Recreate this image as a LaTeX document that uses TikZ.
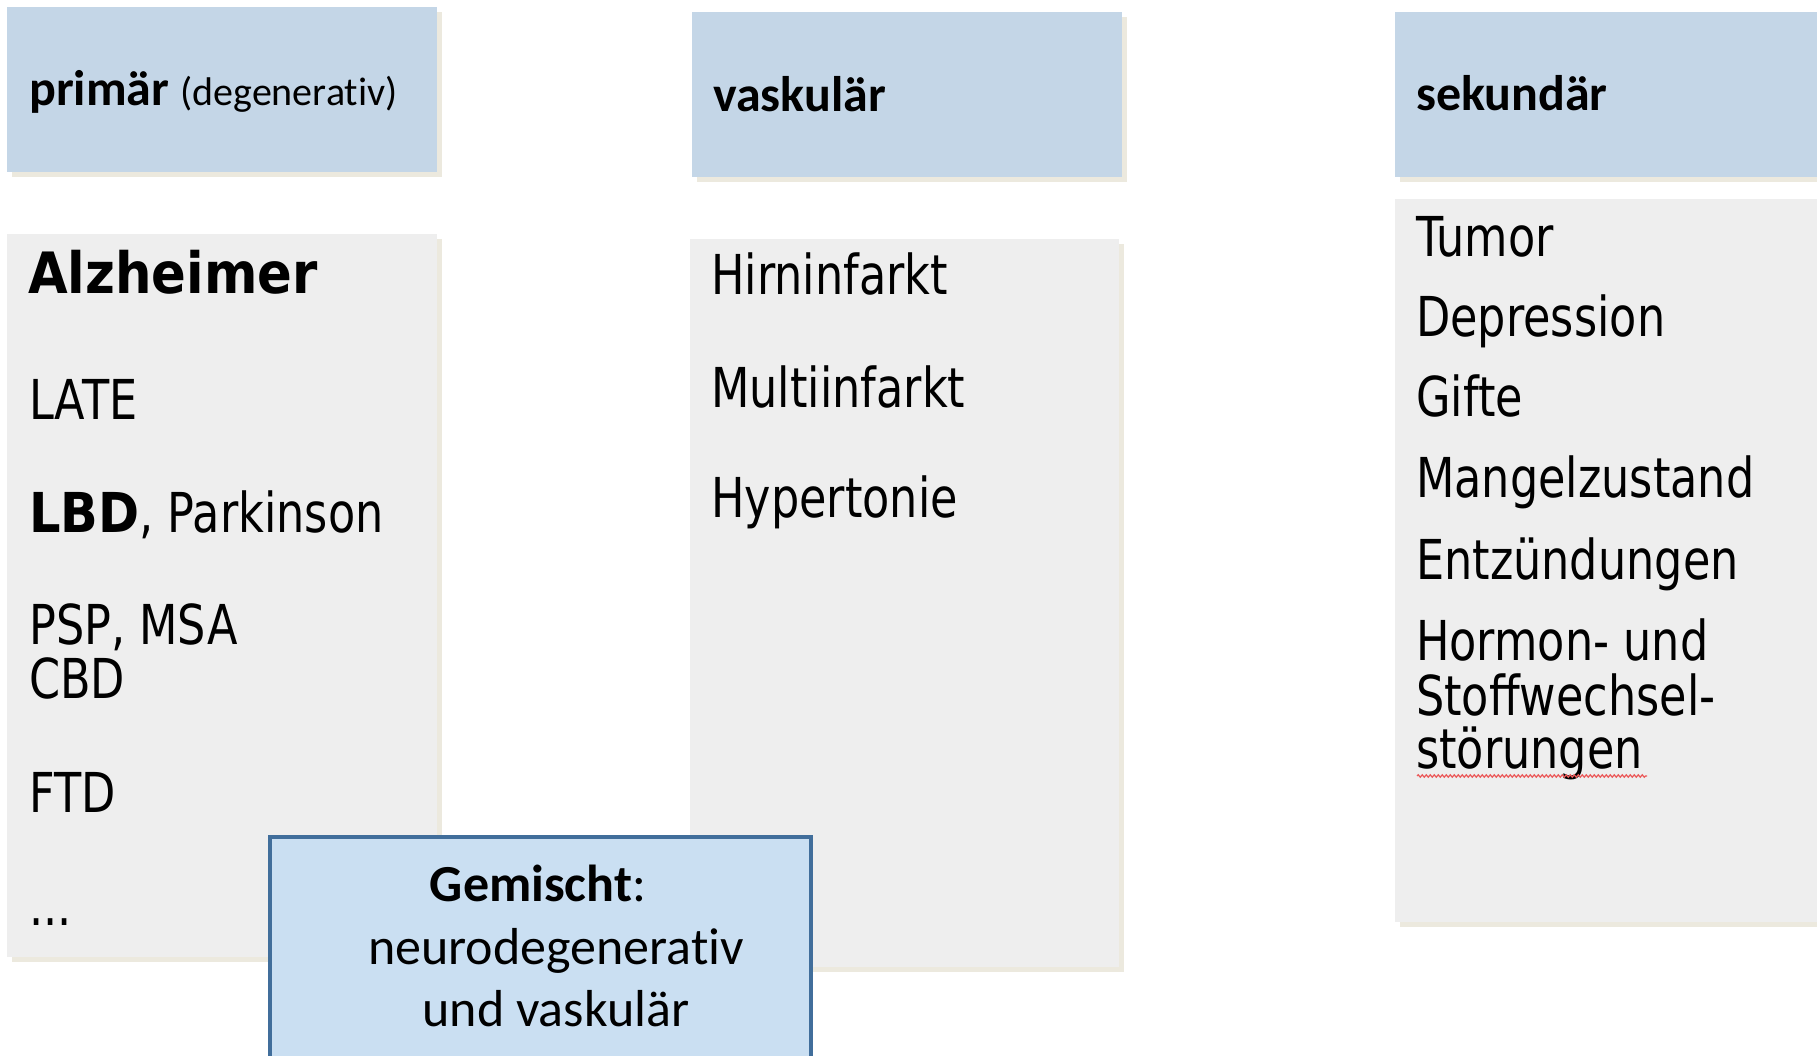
\documentclass[tikz,border=0pt]{standalone}
\usepackage{fontspec}
\setmainfont[Ligatures=NoCommon, RawFeature={-calt;-dlig;-clig}]{Carlito}
\newfontfamily\listfont[FakeStretch=0.81, BoldFeatures={FakeStretch=0.9}]{DejaVu Sans}
\usepackage{tikz}
\usetikzlibrary{shadows, decorations.pathmorphing}
\definecolor{headblue}{RGB}{196,214,231}
\definecolor{listgrey}{RGB}{238,238,238}
\definecolor{shadowbeige}{RGB}{236,233,222}
\definecolor{mixblue}{RGB}{202,223,242}
\definecolor{mixborder}{RGB}{65,110,155}
\definecolor{spellred}{RGB}{235,90,90}

\begin{document}
\begin{tikzpicture}[x=1pt, y=-1pt,
            headbox/.style={fill=headblue, anchor=north west, inner sep=0pt, minimum height=165pt,
                drop shadow={shadow xshift=5pt, shadow yshift=-5pt, fill=shadowbeige, opacity=1}},
            listbox/.style={fill=listgrey, anchor=north west, inner sep=0pt,
                drop shadow={shadow xshift=5pt, shadow yshift=-5pt, fill=shadowbeige, opacity=1}},
            mixbox/.style={fill=mixblue, draw=mixborder, line width=4pt, anchor=north west, inner sep=0pt},
            headtxt/.style={anchor=base west, inner sep=0pt, font=\fontsize{50}{60}\selectfont\bfseries},
            item/.style={anchor=base west, inner sep=0pt, font=\listfont\fontsize{55}{66}\selectfont},
            itembig/.style={anchor=base west, inner sep=0pt, font=\listfont\fontsize{57}{68}\selectfont\bfseries},
            mixtxt/.style={anchor=base, inner sep=0pt, font=\fontsize{52}{62}\selectfont}
        ]
        \useasboundingbox (0,0) rectangle (1817,1056);
        \clip (0,0) rectangle (1817,1056);
        % --- headers ---
        \node[headbox, minimum width=430pt] (headP) at (7,7) {};
        \node[headbox, minimum width=430pt] (headV) at (692,12) {};
        \node[headbox, minimum width=435pt] (headS) at (1395,12) {};
        \node[headtxt] (tP) at (29,106) {primär {\mdseries\fontsize{40}{48}\selectfont (degenerat\kern0pt iv)}};
        \node[headtxt] (tV) at (713,112) {vaskulär};
        \node[headtxt] (tS) at (1416,111) {sekundär};
        % --- lists ---
        \node[listbox, minimum width=430pt, minimum height=723pt] (listP) at (7,234) {};
        \node[listbox, minimum width=429pt, minimum height=728pt] (listV) at (690,239) {};
        \node[listbox, minimum width=435pt, minimum height=723pt] (listS) at (1395,199) {};
        % primär
        \node[itembig] (alz) at (28,294) {Alzheimer};
        \node[item] (late) at (29,419) {LATE};
        \node[item] (lbd) at (29,532) {\textbf{LBD}, Parkinson};
        \node[item] (psp) at (29,644) {PSP, MSA};
        \node[item] (cbd) at (29,698) {CBD};
        \node[item] (ftd) at (29,812) {FTD};
        \node[item] (etc) at (29,925) {...};
        % vaskulär
        \node[item] (hirn) at (711,295) {Hirninfarkt};
        \node[item] (multi) at (711,407) {Multiinfarkt};
        \node[item] (hyper) at (711,517) {Hypertonie};
        % sekundär
        \node[item] (tumor) at (1416,257) {Tumor};
        \node[item] (depr) at (1416,337) {Depression};
        \node[item] (gift) at (1416,416) {Gifte};
        \node[item] (mangel) at (1416,497) {Mangelzustand};
        \node[item] (entz) at (1416,579) {Entzündungen};
        \node[item] (horm) at (1416,660) {Hormon- und};
        \node[item] (stoff) at (1416,715) {Stoffwechsel-};
        \node[item] (stoer) at (1416,768) {störungen};
        \coordinate (sqA) at (1417,776);
        \coordinate (sqB) at (1647,776);
        \draw[spellred, line width=1.2pt, decorate, decoration={snake, amplitude=1.2pt, segment length=4pt}] (sqA) -- (sqB);
        % --- mixed ---
        \node[mixbox, minimum width=541pt, minimum height=260pt] (mix) at (268,835) {};
        \node[mixtxt] (mixA) at (538,901) {\textbf{Gemischt}:};
        \node[mixtxt] (mixB) at (556,964) {neurodegenerat\kern0pt iv};
        \node[mixtxt] (mixC) at (556,1026) {und vaskulär};
        \end{tikzpicture}
\end{document}
